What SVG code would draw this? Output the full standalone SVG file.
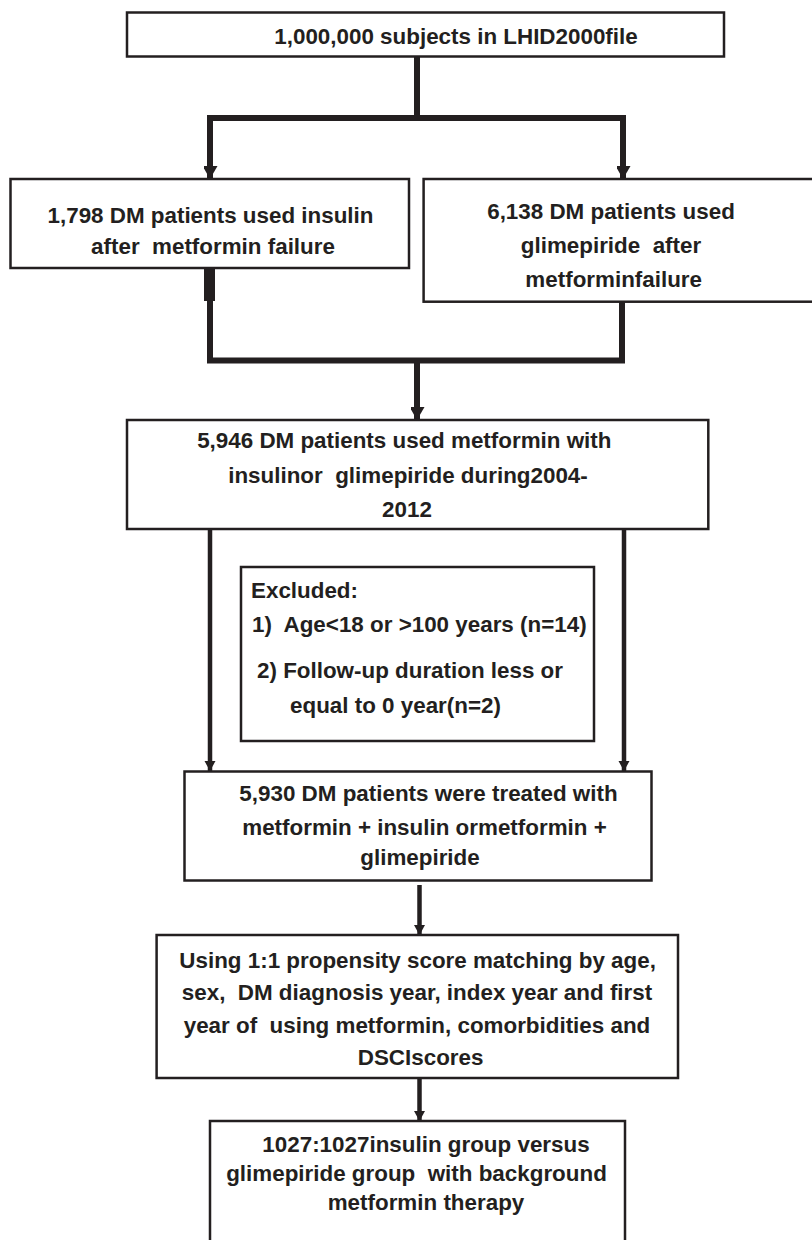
<svg xmlns="http://www.w3.org/2000/svg" width="812" height="1240" viewBox="0 0 812 1240">
<style>
.box{fill:#fff;stroke:#231f20;stroke-width:2.5}
.t{font-family:"Liberation Sans",Arial,sans-serif;font-weight:bold;font-size:22.4px;fill:#231f20;white-space:pre}
.m{text-anchor:middle}
.c{fill:none;stroke:#231f20;stroke-width:6}
.c2{fill:none;stroke:#231f20;stroke-width:4.5}
</style>
<defs>
<marker id="ab" markerUnits="userSpaceOnUse" markerWidth="16" markerHeight="14" refX="13" refY="7.5" orient="auto">
<path d="M0,0 L13,7.5 L0,15 z" fill="#231f20"/>
</marker>
<marker id="as" markerUnits="userSpaceOnUse" markerWidth="12" markerHeight="12" refX="10" refY="5.5" orient="auto">
<path d="M0,0 L10,5.5 L0,11 z" fill="#231f20"/>
</marker>
</defs>
<g id="connectors">
<path class="c" d="M417,57 V118 M207,118 H626"/>
<path class="c" d="M210,118 V179" marker-end="url(#ab)"/>
<path class="c" d="M623,118 V179" marker-end="url(#ab)"/>
<rect x="204" y="267" width="11" height="34" fill="#231f20"/>
<path class="c" d="M210,267 V360.5 H625 M622,302 V360.5"/>
<path class="c" d="M417,360.5 V420" marker-end="url(#ab)"/>
<path class="c2" d="M210,529 V771" marker-end="url(#as)"/>
<path class="c2" d="M624,529 V771" marker-end="url(#as)"/>
<path class="c2" d="M419.5,885 V935" marker-end="url(#as)"/>
<path class="c2" d="M419.5,1078 V1121" marker-end="url(#as)"/>
</g>
<g id="n1">
<rect class="box" x="127" y="12.5" width="597" height="44"/>
<text class="t m" x="456" y="43.5">1,000,000 subjects in LHID2000file</text>
</g>
<g id="n2">
<rect class="box" x="10.5" y="179" width="398.5" height="89"/>
<text class="t m" x="210.5" y="223">1,798 DM patients used insulin</text>
<text class="t m" x="213" y="254">after  metformin failure</text>
</g>
<g id="n3">
<rect class="box" x="423.6" y="179" width="392" height="122.7"/>
<text class="t m" x="611" y="219">6,138 DM patients used</text>
<text class="t m" x="611" y="253">glimepiride  after</text>
<text class="t m" x="613.7" y="287">metforminfailure</text>
</g>
<g id="n4">
<rect class="box" x="127" y="420" width="581.3" height="109"/>
<text class="t m" x="404.3" y="448">5,946 DM patients used metformin with</text>
<text class="t m" x="408" y="483">insulinor  glimepiride during2004-</text>
<text class="t m" x="407" y="517">2012</text>
</g>
<g id="n5">
<rect class="box" x="241" y="567" width="353" height="174"/>
<text class="t" x="251" y="598">Excluded:</text>
<text class="t" x="252" y="632">1)  Age&lt;18 or &gt;100 years (n=14)</text>
<text class="t" x="257" y="678">2) Follow-up duration less or</text>
<text class="t" x="290" y="713">equal to 0 year(n=2)</text>
</g>
<g id="n6">
<rect class="box" x="184.5" y="771.5" width="467" height="109"/>
<text class="t m" x="428.5" y="801">5,930 DM patients were treated with</text>
<text class="t m" x="424.5" y="835">metformin + insulin ormetformin +</text>
<text class="t m" x="420" y="865">glimepiride</text>
</g>
<g id="n7">
<rect class="box" x="156.6" y="935" width="521.4" height="143"/>
<text class="t m" x="417.6" y="968">Using 1:1 propensity score matching by age,</text>
<text class="t m" x="417" y="1000">sex,  DM diagnosis year, index year and first</text>
<text class="t m" x="417" y="1033">year of  using metformin, comorbidities and</text>
<text class="t m" x="420.6" y="1065">DSCIscores</text>
</g>
<g id="n8">
<rect class="box" x="210" y="1121" width="415" height="140"/>
<text class="t m" x="426" y="1152">1027:1027insulin group versus</text>
<text class="t m" x="416.5" y="1181">glimepiride group  with background</text>
<text class="t m" x="426" y="1210">metformin therapy</text>
</g>
</svg>
